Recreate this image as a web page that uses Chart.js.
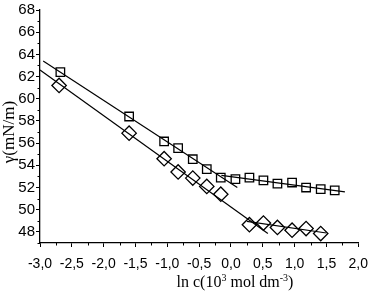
<!DOCTYPE html>
<html><head><meta charset="utf-8">
<script src="https://cdn.jsdelivr.net/npm/chart.js@4/dist/chart.umd.min.js"></script>
<style>html,body{margin:0;padding:0;background:#fff}#wrap{width:377px;height:292px}</style>
</head><body><div id="wrap"><canvas id="c"></canvas></div>
<script>
const sqX = [-2.68,-1.6,-1.05,-0.83,-0.6,-0.38,-0.16,0.07,0.29,0.51,0.73,0.96,1.18,1.41,1.63];
const sqY = [62.4,58.4,56.15,55.55,54.55,53.65,52.9,52.75,52.9,52.65,52.35,52.45,52.0,51.85,51.75];
const diX = [-2.7,-1.6,-1.05,-0.83,-0.6,-0.38,-0.16,0.29,0.51,0.73,0.96,1.18,1.41];
const diY = [61.2,56.9,54.6,53.4,52.85,52.1,51.4,48.65,48.8,48.4,48.15,48.3,47.85];
const sqFit1X = [-2.95, 0.1], sqFit1Y = [63.4, 52.0];
const sqFit2X = [-0.15, 1.79], sqFit2Y = [53.1, 51.6];
const diFit1X = [-3.0, 0.58], diFit1Y = [62.6, 47.85];
const diFit2X = [0.25, 1.5], diFit2Y = [48.95, 47.9];
const xTicks = [-3,-2.5,-2,-1.5,-1,-0.5,0,0.5,1,1.5,2];
const xMinorTicks = [-2.75,-2.25,-1.75,-1.25,-0.75,-0.25,0.25,0.75,1.25,1.75];
const yTicks = [48,50,52,54,56,58,60,62,64,66,68];
const yMinorTicks = [47,49,51,53,55,57,59,61,63,65,67];

const pts = (xs, ys) => xs.map((x, i) => ({x, y: ys[i]}));
const fmt = v => v.toFixed(1).replace('.', ',');

const lineDs = (xs, ys) => ({data: pts(xs, ys), showLine: true, borderColor: '#000', borderWidth: 1.2, pointRadius: 0, order: 2});

const extras = {
  id: 'extras',
  afterDraw(chart) {
    const ctx = chart.ctx, xs = chart.scales.x, ys = chart.scales.y;
    ctx.save();
    ctx.strokeStyle = '#000'; ctx.lineWidth = 1;
    const bottom = chart.chartArea.bottom, left = chart.chartArea.left;
    xMinorTicks.forEach(v => { const p = Math.round(xs.getPixelForValue(v)) + 0.5; ctx.beginPath(); ctx.moveTo(p, bottom); ctx.lineTo(p, bottom + 2.5); ctx.stroke(); });
    yMinorTicks.forEach(v => { const p = Math.round(ys.getPixelForValue(v)) + 0.5; ctx.beginPath(); ctx.moveTo(left, p); ctx.lineTo(left - 2.5, p); ctx.stroke(); });
    // x title
    ctx.fillStyle = '#000';
    ctx.textBaseline = 'alphabetic';
    const big = '16px "Liberation Serif", "Times New Roman", serif';
    const small = '10px "Liberation Serif", "Times New Roman", serif';
    const parts = [['ln c(10', big, 0], ['3', small, -6], [' mol dm', big, 0], ['-3', small, -6], [')', big, 0]];
    let w = 0;
    parts.forEach(p => { ctx.font = p[1]; w += ctx.measureText(p[0]).width; });
    let x = 235 - w / 2;
    const baseY = 287;
    parts.forEach(p => { ctx.font = p[1]; ctx.fillText(p[0], x, baseY + p[2]); x += ctx.measureText(p[0]).width; });
    // y title
    ctx.translate(14, ys.getPixelForValue(57.0));
    ctx.rotate(-Math.PI / 2);
    ctx.font = '17px "Liberation Serif", "Times New Roman", serif'; ctx.textAlign = 'center';
    ctx.fillText('γ(mN/m)', 0, 0);
    ctx.restore();
  }
};

new Chart(document.getElementById('c'), {
  type: 'scatter',
  data: {
    datasets: [
      {data: pts(sqX, sqY), pointStyle: 'rect', pointRadius: 6, borderColor: '#000', backgroundColor: 'rgba(0,0,0,0)', pointBorderWidth: 1.3, order: 1},
      {data: pts(diX, diY), pointStyle: 'rectRot', pointRadius: 7.2, borderColor: '#000', backgroundColor: 'rgba(0,0,0,0)', pointBorderWidth: 1.3, order: 1},
      lineDs(sqFit1X, sqFit1Y), lineDs(sqFit2X, sqFit2Y), lineDs(diFit1X, diFit1Y), lineDs(diFit2X, diFit2Y)
    ]
  },
  options: {
    responsive: true, maintainAspectRatio: false, animation: false,
    layout: {padding: {top: 5, right: 13, left: 0, bottom: 0}},
    plugins: {legend: {display: false}, tooltip: {enabled: false}},
    scales: {
      x: {
        type: 'linear', min: -3, max: 2,
        afterBuildTicks: s => { s.ticks = xTicks.map(v => ({value: v})); },
        afterFit: s => { s.height = 49; },
        ticks: {callback: v => fmt(v), color: '#000', font: {family: '"Liberation Sans", Arial, sans-serif', size: 14}, padding: 9, maxRotation: 0, autoSkip: false},
        grid: {drawOnChartArea: false, tickLength: 4, tickColor: '#000', tickWidth: 1},
        border: {color: '#000', width: 1.3}
      },
      y: {
        type: 'linear', min: 47, max: 68,
        afterBuildTicks: s => { s.ticks = yTicks.map(v => ({value: v})); },
        afterFit: s => { s.width = 40; },
        ticks: {callback: v => String(v), color: '#000', font: {family: '"Liberation Sans", Arial, sans-serif', size: 15}, padding: 1, autoSkip: false},
        grid: {drawOnChartArea: false, tickLength: 4, tickColor: '#000', tickWidth: 1},
        border: {color: '#000', width: 1.3}
      }
    }
  },
  plugins: [extras]
});
</script></body></html>
